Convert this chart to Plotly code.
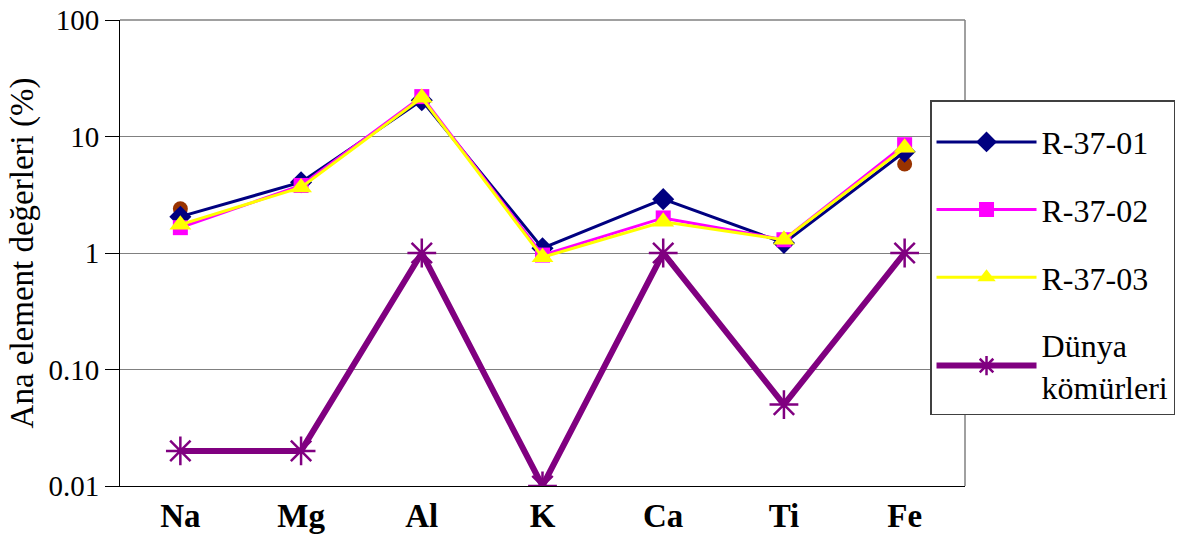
import plotly.graph_objects as go

elements = ["Na", "Mg", "Al", "K", "Ca", "Ti", "Fe"]
r_37_01 = [2.05, 4.05, 20.5, 1.1, 2.9, 1.22, 7.4]
r_37_02 = [1.65, 3.8, 22.0, 0.96, 2.0, 1.3, 8.5]
r_37_03 = [1.75, 3.65, 21.5, 0.92, 1.85, 1.3, 8.0]
dunya = [0.02, 0.02, 1.0, 0.01, 1.0, 0.05, 1.0]
extra = [2.4, None, None, None, None, None, 5.8]

y_ticks = [0.01, 0.1, 1, 10, 100]
y_tick_text = ["0.01", "0.10", "1", "10", "100"]

FONT = "Liberation Serif, Times New Roman, serif"

fig = go.Figure()

fig.add_trace(go.Scatter(
    x=elements, y=dunya, name="Dünya<br>kömürleri", legendgroup="d",
    mode="lines+markers",
    line=dict(color="#800080", width=6),
    marker=dict(symbol="asterisk-open", size=24, line=dict(color="#800080", width=2.5)),
    legendrank=4,
))
fig.add_trace(go.Scatter(
    x=elements, y=extra, mode="markers", showlegend=False,
    marker=dict(symbol="circle", size=15, color="#993300"),
))
fig.add_trace(go.Scatter(
    x=elements, y=r_37_01, name="R-37-01", legendgroup="a",
    mode="lines+markers",
    line=dict(color="#000080", width=3),
    marker=dict(symbol="diamond", size=17, color="#000080"),
    legendrank=1,
))
fig.add_trace(go.Scatter(
    x=elements, y=r_37_02, name="R-37-02", legendgroup="b",
    mode="lines+markers",
    line=dict(color="#FF00FF", width=3),
    marker=dict(symbol="square", size=15, color="#FF00FF"),
    legendrank=2,
))
fig.add_trace(go.Scatter(
    x=elements, y=r_37_03, name="R-37-03", legendgroup="c",
    mode="lines+markers",
    line=dict(color="#FFFF00", width=3),
    marker=dict(symbol="triangle-up", size=19, color="#FFFF00"),
    legendrank=3,
))

fig.update_layout(
    width=1192, height=539,
    margin=dict(l=120, r=227, t=20, b=53, autoexpand=False),
    paper_bgcolor="white", plot_bgcolor="white",
    font=dict(family=FONT, size=30, color="black"),
    showlegend=True,
    legend=dict(
        x=0.9586, y=0.828, xanchor="left", yanchor="top",
        bgcolor="white", bordercolor="#404040", borderwidth=1.5,
        font=dict(family=FONT, size=32, color="black"),
        title=dict(text=" ", font=dict(size=10)),
        traceorder="grouped", tracegroupgap=23, itemwidth=100,
    ),
    xaxis=dict(
        type="category", showgrid=False, showline=True, linecolor="black",
        linewidth=1, mirror=False, ticks="", ticklabelstandoff=0,
        tickfont=dict(family=FONT, size=33, weight="bold"),
        range=[-0.5, 6.5], automargin=False,
    ),
    yaxis=dict(
        type="log", range=[-2, 2], tickvals=y_ticks, ticktext=y_tick_text,
        showgrid=True, gridcolor="#808080", gridwidth=1,
        showline=True, linecolor="black", linewidth=1,
        ticks="outside", ticklen=14, tickcolor="black",
        tickfont=dict(family=FONT, size=29),
        title=dict(text="Ana element değerleri (%)", font=dict(family=FONT, size=33), standoff=4),
        zeroline=False, automargin=False,
    ),
)

# plot area border on the top and right sides
fig.add_shape(type="line", xref="paper", yref="paper", x0=0, x1=1, y0=1, y1=1,
              line=dict(color="#808080", width=1.5))
fig.add_shape(type="line", xref="paper", yref="paper", x0=1, x1=1, y0=0, y1=1,
              line=dict(color="#808080", width=1.5))

fig.write_html("out.html")
